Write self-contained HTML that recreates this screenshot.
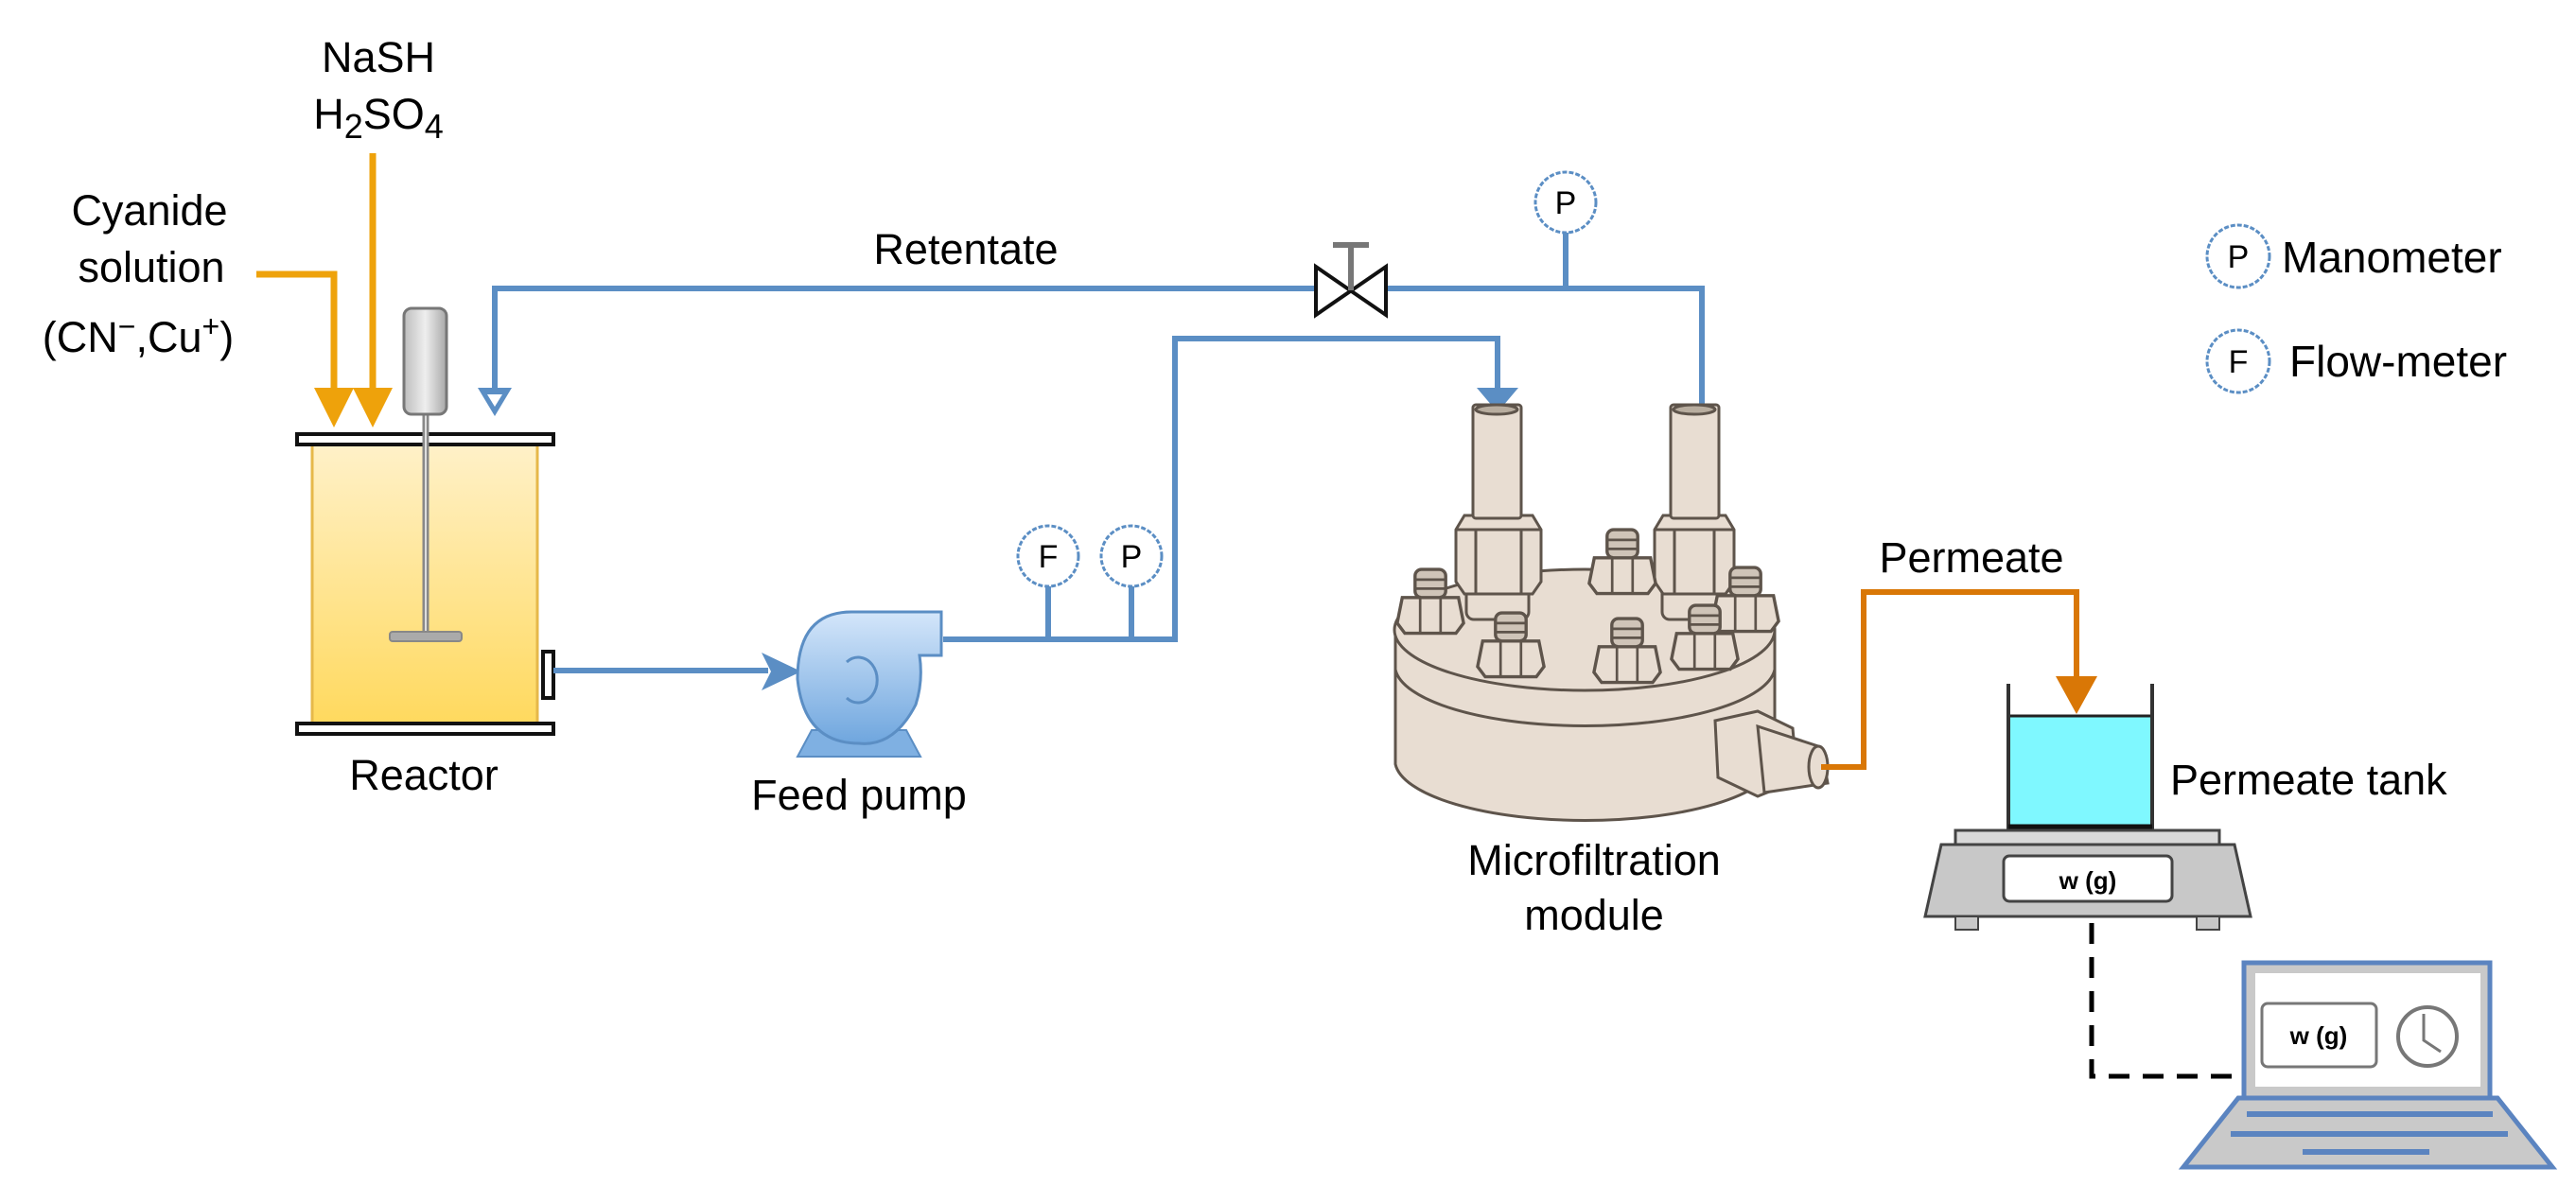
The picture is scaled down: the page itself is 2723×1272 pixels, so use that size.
<!DOCTYPE html>
<html><head><meta charset="utf-8"><style>
html,body{margin:0;padding:0;background:#fff}
svg{display:block}
text{font-family:"Liberation Sans",Arial,sans-serif;fill:#000}
</style></head><body>
<svg width="2723" height="1272" viewBox="0 0 2723 1272" xmlns="http://www.w3.org/2000/svg">
<defs>
<linearGradient id="rg" x1="0" y1="0" x2="0" y2="1"><stop offset="0" stop-color="#fff1c9"/><stop offset="1" stop-color="#ffd95e"/></linearGradient>
<linearGradient id="pg" x1="0" y1="0" x2="0" y2="1"><stop offset="0" stop-color="#d4e6fa"/><stop offset="1" stop-color="#6fa6de"/></linearGradient>
<linearGradient id="mg" x1="0" y1="0" x2="1" y2="0"><stop offset="0" stop-color="#bdbdbd"/><stop offset=".5" stop-color="#eeeeee"/><stop offset="1" stop-color="#a8a8a8"/></linearGradient>
<g id="bolt">
<path d="M-26 8 L-22 -12 L22 -12 L26 8 L20 16 L-20 16 Z" fill="#e8ddd2" stroke="#5e544b" stroke-width="2.5"/>
<line x1="-8" y1="-12" x2="-8" y2="16" stroke="#5e544b" stroke-width="2"/><line x1="8" y1="-12" x2="8" y2="16" stroke="#5e544b" stroke-width="2"/>
<rect x="-12" y="-34" width="24" height="22" rx="5" fill="#cfc4b8" stroke="#5e544b" stroke-width="2.5"/>
<line x1="-11" y1="-26" x2="11" y2="-26" stroke="#5e544b" stroke-width="2"/><line x1="-11" y1="-19" x2="11" y2="-19" stroke="#5e544b" stroke-width="2"/>
</g>
</defs>

<g stroke="#eea20b" stroke-width="7" fill="none">
<polyline points="271,290 353,290 353,430"/>
<line x1="394" y1="162" x2="394" y2="430"/>
</g>
<polygon points="332,410 374,410 353,452" fill="#eea20b"/>
<polygon points="373,410 415,410 394,452" fill="#eea20b"/>

<text x="400" y="76" font-size="45" text-anchor="middle">NaSH</text>
<text x="400" y="136" font-size="45" text-anchor="middle">H<tspan font-size="36" dy="10">2</tspan><tspan dy="-10">SO</tspan><tspan font-size="36" dy="10">4</tspan></text>
<text x="158" y="238" font-size="45" text-anchor="middle">Cyanide</text>
<text x="160" y="298" font-size="45" text-anchor="middle">solution</text>
<text x="146" y="372" font-size="45" text-anchor="middle">(CN<tspan font-size="32" dy="-16">−</tspan><tspan dy="16">,Cu</tspan><tspan font-size="32" dy="-16">+</tspan><tspan dy="16">)</tspan></text>

<rect x="330" y="468" width="238" height="297" fill="url(#rg)" stroke="#e6b84a" stroke-width="3"/>
<rect x="314" y="459" width="271" height="11" fill="#fff" stroke="#111" stroke-width="4"/>
<rect x="314" y="765" width="271" height="11" fill="#fff" stroke="#111" stroke-width="4"/>
<rect x="574" y="689" width="11" height="49" fill="#fff" stroke="#111" stroke-width="4"/>
<line x1="450" y1="439" x2="450" y2="676" stroke="#888" stroke-width="7"/>
<line x1="450" y1="439" x2="450" y2="676" stroke="#ddd" stroke-width="2"/>
<rect x="412" y="668" width="76" height="10" rx="3" fill="#aaa" stroke="#888" stroke-width="2"/>
<rect x="427" y="326" width="45" height="112" rx="8" fill="url(#mg)" stroke="#777" stroke-width="3"/>
<text x="448" y="835" font-size="45" text-anchor="middle">Reactor</text>

<g stroke="#5b8ec4" stroke-width="6" fill="none">
<polyline points="523,420 523,305 1391,305"/>
<polyline points="1465,305 1799,305 1799,436"/>
<line x1="1655" y1="246" x2="1655" y2="305"/>
<line x1="585" y1="709" x2="812" y2="709"/>
<polyline points="997,676 1242,676 1242,358 1583,358 1583,410"/>
<line x1="1108" y1="620" x2="1108" y2="676"/>
<line x1="1196" y1="620" x2="1196" y2="676"/>
</g>
<polygon points="505,410 541,410 523,440" fill="#5b8ec4"/>
<polygon points="515,417 531,417 523,430" fill="#fff"/>
<polygon points="805,690 847,710 805,730 815,710" fill="#5b8ec4"/>
<polygon points="1561,410 1605,410 1583,436" fill="#5b8ec4"/>

<polygon points="1391,282 1465,333 1465,282 1391,333" fill="#fff" stroke="#111" stroke-width="4"/>
<line x1="1428" y1="307" x2="1428" y2="259" stroke="#777" stroke-width="6"/>
<line x1="1409" y1="259" x2="1447" y2="259" stroke="#777" stroke-width="6"/>
<text x="1021" y="279" font-size="45" text-anchor="middle">Retentate</text>

<g fill="#fff" stroke="#5b8ec4" stroke-width="3" stroke-dasharray="5 2">
<circle cx="1655" cy="214" r="32"/>
<circle cx="1108" cy="588" r="32"/>
<circle cx="1196" cy="588" r="32"/>
<circle cx="2366" cy="271" r="33"/>
<circle cx="2366" cy="382" r="33"/>
</g>
<g font-size="34" text-anchor="middle">
<text x="1655" y="226">P</text><text x="1108" y="600">F</text><text x="1196" y="600">P</text>
<text x="2366" y="283">P</text><text x="2366" y="394">F</text>
</g>
<text x="2412" y="288" font-size="46">Manometer</text>
<text x="2420" y="398" font-size="46">Flow-meter</text>

<polygon points="858,772 958,772 973,800 843,800" fill="#7fb0e2" stroke="#5b8ec4" stroke-width="2"/>
<path d="M900,647 L995,647 L995,693 L972,693 Q976,720 968,745 Q945,790 908,786 Q850,786 843,718 Q843,647 900,647 Z" fill="url(#pg)" stroke="#5b8ec4" stroke-width="3"/>
<path d="M895,700 A20,24 0 1 1 895,738" fill="none" stroke="#5b8ec4" stroke-width="3"/>
<text x="908" y="856" font-size="45" text-anchor="middle">Feed pump</text>

<g stroke="#5e544b" stroke-width="3" fill="#e8ddd2">
<path d="M1475,666 L1475,808 A201,64 0 0 0 1876,808 L1876,666 Z"/>
<ellipse cx="1675" cy="666" rx="201" ry="64"/>
<path d="M1475,708 A201,64 0 0 0 1876,708" fill="none"/>
<rect x="1550" y="600" width="66" height="55" rx="8"/>
<path d="M1539,560 L1548,545 L1620,545 L1629,560 L1629,615 L1620,628 L1548,628 L1539,615 Z"/>
<line x1="1560" y1="560" x2="1560" y2="628"/><line x1="1608" y1="560" x2="1608" y2="628"/>
<line x1="1539" y1="560" x2="1629" y2="560"/>
<rect x="1557" y="428" width="51" height="120" rx="3"/>
<ellipse cx="1582" cy="433" rx="22" ry="5" fill="#b8ad9f"/>
<rect x="1757" y="600" width="66" height="55" rx="8"/>
<path d="M1749,560 L1758,545 L1824,545 L1833,560 L1833,615 L1824,628 L1758,628 L1749,615 Z"/>
<line x1="1770" y1="560" x2="1770" y2="628"/><line x1="1812" y1="560" x2="1812" y2="628"/>
<line x1="1749" y1="560" x2="1833" y2="560"/>
<rect x="1766" y="428" width="51" height="120" rx="3"/>
<ellipse cx="1791" cy="433" rx="22" ry="5" fill="#b8ad9f"/>
<path d="M1813,762 L1858,752 L1895,770 L1900,825 L1858,842 L1816,822 Z"/>
<path d="M1858,768 L1925,790 L1932,828 L1865,838 Z"/>
<ellipse cx="1922" cy="811" rx="10" ry="22"/>
</g>
<use href="#bolt" transform="translate(1512,648) scale(1.35)"/>
<use href="#bolt" transform="translate(1715,606) scale(1.35)"/>
<use href="#bolt" transform="translate(1845,646) scale(1.35)"/>
<use href="#bolt" transform="translate(1597,694) scale(1.35)"/>
<use href="#bolt" transform="translate(1720,700) scale(1.35)"/>
<use href="#bolt" transform="translate(1802,686) scale(1.35)"/>
<text x="1685" y="925" font-size="45" text-anchor="middle">Microfiltration</text>
<text x="1685" y="983" font-size="45" text-anchor="middle">module</text>

<polyline points="1925,811 1970,811 1970,626 2195,626 2195,735" fill="none" stroke="#d97706" stroke-width="6"/>
<polygon points="2173,715 2217,715 2195,755" fill="#d97706"/>
<text x="2084" y="605" font-size="45" text-anchor="middle">Permeate</text>

<rect x="2123" y="757" width="152" height="118" fill="#7ff8ff" stroke="#222" stroke-width="3"/>
<line x1="2123" y1="723" x2="2123" y2="877" stroke="#333" stroke-width="4"/>
<line x1="2275" y1="723" x2="2275" y2="877" stroke="#333" stroke-width="4"/>
<line x1="2123" y1="874" x2="2275" y2="874" stroke="#111" stroke-width="5"/>
<text x="2294" y="840" font-size="45">Permeate tank</text>

<rect x="2067" y="878" width="279" height="15" fill="#d9d9d9" stroke="#444" stroke-width="3"/>
<polygon points="2052,893 2362,893 2379,969 2035,969" fill="#c8c8c8" stroke="#444" stroke-width="3"/>
<rect x="2067" y="969" width="24" height="14" fill="#c8c8c8" stroke="#444" stroke-width="2"/>
<rect x="2322" y="969" width="24" height="14" fill="#c8c8c8" stroke="#444" stroke-width="2"/>
<rect x="2118" y="905" width="178" height="48" rx="6" fill="#fff" stroke="#444" stroke-width="3"/>
<text x="2207" y="940" font-size="26" text-anchor="middle" font-weight="bold" fill="#444">w (g)</text>

<polyline points="2211,976 2211,1138 2367,1138" fill="none" stroke="#000" stroke-width="5" stroke-dasharray="22 14"/>

<rect x="2372" y="1018" width="260" height="143" fill="#c9c9c9" stroke="#5b84c0" stroke-width="5"/>
<rect x="2384" y="1029" width="238" height="120" fill="#fff"/>
<rect x="2391" y="1061" width="121" height="67" rx="6" fill="#fff" stroke="#777" stroke-width="3"/>
<text x="2451" y="1104" font-size="26" text-anchor="middle" font-weight="bold" fill="#888">w (g)</text>
<circle cx="2566" cy="1096" r="31" fill="#fff" stroke="#777" stroke-width="4"/>
<polyline points="2562,1072 2562,1100 2580,1112" fill="none" stroke="#777" stroke-width="3"/>
<polygon points="2366,1161 2640,1161 2698,1234 2308,1234" fill="#c9c9c9" stroke="#5b84c0" stroke-width="5"/>
<line x1="2375" y1="1178" x2="2635" y2="1178" stroke="#5b84c0" stroke-width="6"/>
<line x1="2358" y1="1199" x2="2651" y2="1199" stroke="#5b84c0" stroke-width="6"/>
<line x1="2434" y1="1218" x2="2568" y2="1218" stroke="#5b84c0" stroke-width="6"/>
</svg>
</body></html>
